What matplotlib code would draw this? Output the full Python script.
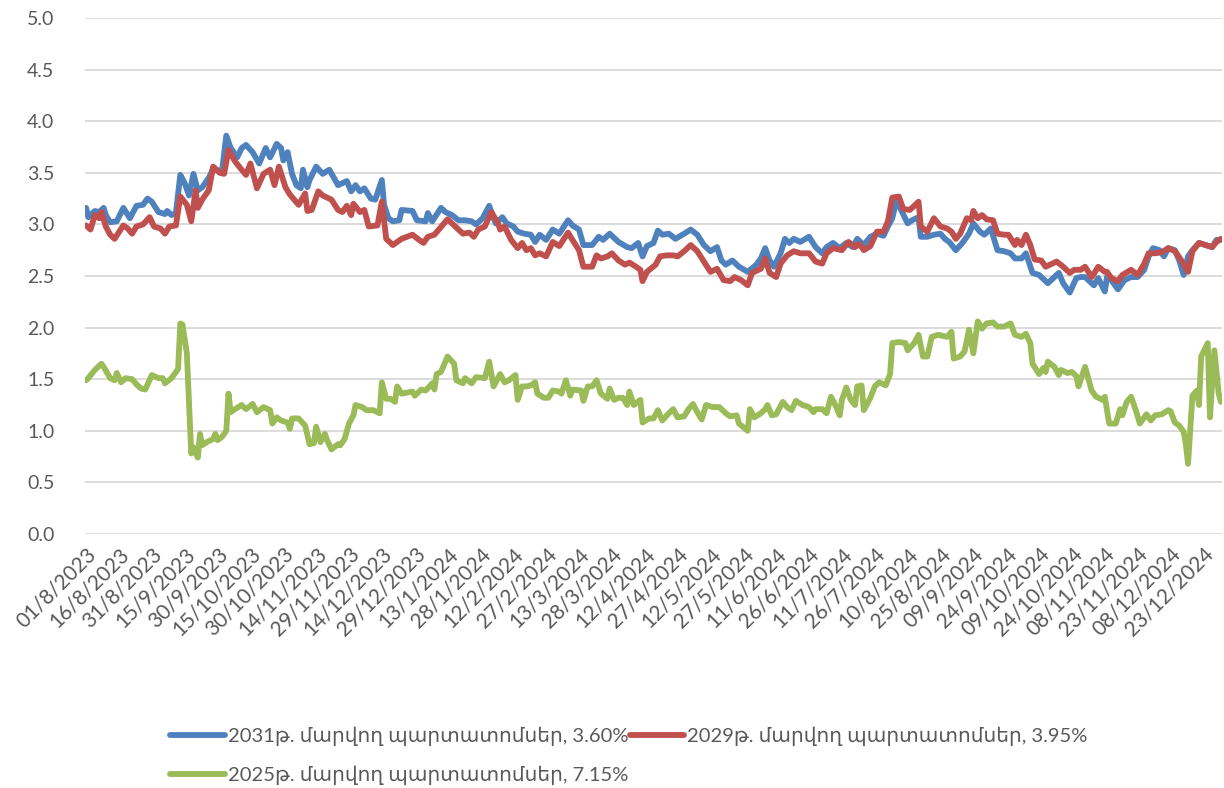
import matplotlib
matplotlib.use('Agg')
import matplotlib.pyplot as plt

plt.rcParams['font.family'] = ['Lato', 'DejaVu Sans']

# day offsets from 01/8/2023 and yields (%)
blue_day = [0, 1, 4, 6, 8, 9, 11, 14, 17, 20, 23, 26, 28, 30, 33, 36, 37, 39, 41, 43, 45, 47, 49, 51, 53, 56, 58, 62, 64, 66,
            69, 71, 73, 76, 79, 82, 84, 87, 89, 90, 92, 94, 96, 98, 99, 101, 102, 105, 108, 111, 115, 119, 121, 123, 125, 127,
            130, 132, 135, 136, 138, 140, 143, 144, 149, 151, 155, 156, 158, 162, 164, 167, 170, 173, 176, 178, 181, 184, 186,
            187, 190, 192, 195, 197, 200, 203, 205, 207, 210, 213, 216, 220, 222, 225, 227, 231, 234, 236, 239, 243, 247, 249,
            252, 254, 256, 259, 261, 263, 266, 269, 273, 276, 279, 282, 285, 288, 290, 292, 295, 298, 302, 306, 308, 310, 312,
            314, 317, 319, 321, 323, 326, 330, 333, 336, 338, 341, 344, 347, 350, 352, 355, 358, 361, 364, 366, 368, 370, 372,
            375, 377, 380, 381, 384, 387, 390, 392, 394, 397, 400, 403, 405, 408, 410, 413, 416, 419, 422, 424, 427, 429, 432,
            435, 439, 442, 444, 446, 449, 452, 454, 456, 460, 462, 465, 466, 468, 471, 474, 477, 480, 483, 485, 487, 490, 492,
            494, 497, 499, 501, 503, 505, 508, 511, 514, 516, 518]
blue_val = [3.16, 3.07, 3.13, 3.12, 3.16, 3.09, 3.02, 3.03, 3.16, 3.06, 3.18, 3.19, 3.25, 3.22, 3.12, 3.10, 3.13, 3.09, 3.11,
            3.48, 3.40, 3.28, 3.49, 3.33, 3.36, 3.45, 3.54, 3.51, 3.86, 3.74, 3.65, 3.74, 3.77, 3.70, 3.59, 3.74, 3.65, 3.78,
            3.74, 3.62, 3.70, 3.49, 3.38, 3.35, 3.53, 3.36, 3.43, 3.56, 3.49, 3.53, 3.38, 3.42, 3.32, 3.38, 3.32, 3.35, 3.25,
            3.24, 3.43, 3.19, 3.06, 3.03, 3.04, 3.14, 3.13, 3.04, 3.03, 3.11, 3.03, 3.16, 3.12, 3.09, 3.04, 3.04, 3.03, 3.00,
            3.06, 3.18, 3.06, 3.01, 3.07, 3.01, 2.98, 2.93, 2.91, 2.90, 2.83, 2.90, 2.85, 2.95, 2.91, 3.04, 2.99, 2.95, 2.80,
            2.80, 2.88, 2.85, 2.91, 2.83, 2.78, 2.77, 2.82, 2.69, 2.79, 2.82, 2.94, 2.90, 2.91, 2.86, 2.91, 2.95, 2.90, 2.80,
            2.74, 2.78, 2.65, 2.61, 2.65, 2.59, 2.54, 2.61, 2.67, 2.77, 2.65, 2.59, 2.72, 2.86, 2.82, 2.86, 2.83, 2.88, 2.78,
            2.72, 2.78, 2.82, 2.77, 2.82, 2.78, 2.86, 2.80, 2.88, 2.91, 2.89, 2.98, 3.06, 3.24, 3.14, 3.01, 3.04, 3.07, 2.88,
            2.88, 2.90, 2.91, 2.86, 2.83, 2.75, 2.82, 2.91, 3.01, 2.93, 2.90, 2.96, 2.75, 2.74, 2.72, 2.67, 2.67, 2.72, 2.53,
            2.51, 2.43, 2.49, 2.53, 2.43, 2.34, 2.48, 2.49, 2.49, 2.41, 2.48, 2.35, 2.49, 2.46, 2.37, 2.46, 2.49, 2.49, 2.56,
            2.69, 2.77, 2.75, 2.69, 2.77, 2.75, 2.65, 2.51, 2.69, 2.75, 2.82, 2.80, 2.78, 2.85, 2.85]

red_day = [0, 2, 4, 6, 7, 9, 11, 13, 17, 19, 21, 23, 26, 29, 31, 34, 36, 38, 41, 43, 46, 48, 50, 51, 53, 56, 58, 61, 63, 65,
           68, 71, 73, 75, 78, 81, 84, 86, 88, 91, 93, 97, 100, 101, 103, 106, 108, 112, 115, 117, 119, 121, 122, 125, 127,
           129, 133, 135, 137, 140, 144, 149, 152, 154, 156, 159, 161, 165, 168, 172, 175, 177, 179, 182, 185, 188, 189, 191,
           194, 197, 199, 201, 203, 205, 207, 210, 213, 216, 220, 222, 225, 227, 231, 233, 235, 238, 240, 243, 246, 248, 251,
           253, 254, 256, 260, 262, 265, 268, 270, 273, 276, 279, 282, 285, 288, 291, 294, 296, 299, 302, 304, 308, 310, 312,
           315, 317, 320, 323, 326, 330, 333, 336, 338, 341, 345, 348, 351, 353, 355, 358, 361, 364, 366, 368, 371, 373, 376,
           380, 381, 384, 387, 390, 393, 395, 397, 399, 402, 404, 405, 407, 409, 411, 414, 416, 419, 421, 424, 425, 427, 429,
           431, 433, 436, 438, 440, 443, 446, 449, 451, 454, 456, 459, 460, 462, 465, 466, 468, 471, 473, 477, 480, 483, 485,
           488, 491, 494, 497, 500, 503, 505, 508, 511, 514, 516, 518]
red_val = [2.99, 2.95, 3.09, 3.06, 3.12, 2.98, 2.90, 2.86, 2.99, 2.96, 2.91, 2.98, 3.00, 3.07, 2.98, 2.96, 2.91, 2.98, 2.99,
           3.27, 3.19, 3.03, 3.33, 3.16, 3.24, 3.33, 3.56, 3.50, 3.49, 3.72, 3.61, 3.53, 3.48, 3.59, 3.35, 3.49, 3.53, 3.38,
           3.56, 3.36, 3.29, 3.19, 3.30, 3.13, 3.14, 3.32, 3.28, 3.24, 3.14, 3.12, 3.18, 3.09, 3.20, 3.12, 3.14, 2.98, 2.99,
           3.22, 2.86, 2.80, 2.86, 2.90, 2.85, 2.82, 2.88, 2.90, 2.95, 3.05, 2.99, 2.91, 2.92, 2.88, 2.95, 2.98, 3.12, 3.01,
           2.95, 2.98, 2.85, 2.77, 2.82, 2.75, 2.77, 2.70, 2.72, 2.69, 2.83, 2.79, 2.92, 2.85, 2.75, 2.59, 2.59, 2.70, 2.67,
           2.69, 2.72, 2.65, 2.61, 2.63, 2.59, 2.56, 2.45, 2.54, 2.61, 2.69, 2.70, 2.70, 2.69, 2.74, 2.80, 2.74, 2.64, 2.54,
           2.57, 2.46, 2.45, 2.49, 2.46, 2.41, 2.53, 2.57, 2.67, 2.53, 2.49, 2.62, 2.70, 2.74, 2.72, 2.72, 2.64, 2.62, 2.72,
           2.77, 2.75, 2.83, 2.78, 2.81, 2.75, 2.79, 2.93, 2.93, 3.03, 3.26, 3.27, 3.15, 3.14, 3.22, 2.98, 2.93, 3.06, 2.98,
           2.96, 2.93, 2.86, 2.91, 3.06, 3.04, 3.13, 3.06, 3.09, 3.05, 3.04, 2.91, 2.90, 2.90, 2.80, 2.85, 2.80, 2.90, 2.80,
           2.66, 2.65, 2.59, 2.61, 2.64, 2.59, 2.53, 2.56, 2.56, 2.59, 2.49, 2.52, 2.59, 2.54, 2.54, 2.48, 2.45, 2.51, 2.56,
           2.51, 2.62, 2.72, 2.72, 2.73, 2.77, 2.74, 2.65, 2.54, 2.74, 2.82, 2.80, 2.78, 2.83, 2.86]

green_day = [0, 1, 4, 7, 8, 11, 13, 14, 16, 18, 21, 23, 25, 27, 30, 33, 35, 36, 39, 42, 43, 44, 46, 48, 49, 51, 52, 53, 55,
             58, 59, 60, 62, 64, 65, 66, 68, 71, 73, 76, 78, 81, 84, 85, 87, 89, 92, 93, 94, 97, 100, 102, 104, 105, 107,
             109, 110, 112, 115, 116, 118, 120, 122, 123, 126, 128, 131, 134, 135, 137, 139, 141, 142, 144, 149, 150, 153,
             155, 158, 159, 160, 162, 163, 165, 168, 169, 172, 173, 176, 178, 182, 184, 186, 189, 191, 193, 196, 197, 199,
             201, 203, 205, 206, 209, 211, 213, 216, 217, 219, 221, 222, 226, 227, 229, 231, 233, 235, 238, 239, 241, 243,
             245, 247, 248, 250, 253, 254, 257, 259, 261, 263, 266, 268, 270, 273, 275, 277, 279, 281, 283, 286, 289, 292,
             294, 297, 298, 302, 303, 305, 308, 310, 311, 313, 315, 318, 320, 322, 324, 327, 330, 332, 333, 336, 338, 340,
             342, 344, 345, 347, 349, 351, 352, 354, 355, 358, 360, 362, 365, 367, 368, 371, 374, 375, 378, 380, 382, 384,
             386, 389, 393, 395, 396, 399, 401, 403, 405, 407, 409, 411, 414, 416, 419, 422, 424, 427, 429, 431, 432, 435,
             437, 438, 439, 442, 444, 445, 448, 450, 452, 453, 456, 459, 461, 464, 465, 467, 470, 472, 473, 475, 477, 479,
             481, 484, 486, 488, 491, 494, 495, 497, 499, 501, 502, 503, 505, 507, 508, 509, 512, 513, 515, 517, 518]
green_val = [1.49, 1.51, 1.59, 1.65, 1.62, 1.51, 1.49, 1.56, 1.47, 1.51, 1.50, 1.45, 1.41, 1.40, 1.54, 1.51, 1.51, 1.46,
             1.51, 1.60, 2.04, 2.03, 1.75, 0.78, 0.84, 0.74, 0.97, 0.86, 0.89, 0.92, 0.97, 0.91, 0.94, 1.00, 1.36, 1.18,
             1.21, 1.25, 1.21, 1.26, 1.18, 1.23, 1.20, 1.07, 1.13, 1.10, 1.08, 1.02, 1.12, 1.12, 1.05, 0.87, 0.88, 1.04,
             0.89, 0.97, 0.91, 0.82, 0.87, 0.86, 0.92, 1.07, 1.15, 1.25, 1.23, 1.20, 1.20, 1.17, 1.47, 1.31, 1.31, 1.28,
             1.43, 1.36, 1.38, 1.34, 1.40, 1.39, 1.46, 1.40, 1.55, 1.57, 1.62, 1.72, 1.65, 1.49, 1.46, 1.51, 1.46, 1.52,
             1.51, 1.67, 1.43, 1.55, 1.47, 1.49, 1.54, 1.30, 1.43, 1.43, 1.44, 1.47, 1.36, 1.32, 1.32, 1.39, 1.38, 1.36,
             1.49, 1.34, 1.40, 1.39, 1.29, 1.43, 1.43, 1.49, 1.36, 1.31, 1.41, 1.30, 1.32, 1.32, 1.25, 1.38, 1.25, 1.30,
             1.08, 1.12, 1.12, 1.20, 1.10, 1.17, 1.21, 1.13, 1.14, 1.21, 1.26, 1.18, 1.11, 1.25, 1.23, 1.23, 1.17, 1.14,
             1.15, 1.07, 1.00, 1.21, 1.13, 1.17, 1.21, 1.25, 1.15, 1.16, 1.28, 1.23, 1.20, 1.29, 1.25, 1.23, 1.18, 1.21,
             1.21, 1.17, 1.33, 1.25, 1.15, 1.30, 1.42, 1.30, 1.25, 1.43, 1.44, 1.20, 1.32, 1.43, 1.47, 1.44, 1.55, 1.85,
             1.86, 1.85, 1.78, 1.85, 1.93, 1.72, 1.72, 1.91, 1.93, 1.91, 1.96, 1.70, 1.72, 1.77, 1.98, 1.75, 2.06, 1.99,
             2.04, 2.05, 2.01, 2.01, 2.04, 1.93, 1.91, 1.94, 1.85, 1.65, 1.55, 1.61, 1.57, 1.67, 1.62, 1.54, 1.59, 1.56,
             1.57, 1.53, 1.43, 1.62, 1.39, 1.33, 1.30, 1.33, 1.07, 1.07, 1.21, 1.15, 1.28, 1.33, 1.21, 1.07, 1.16, 1.10,
             1.15, 1.16, 1.20, 1.19, 1.08, 1.05, 0.99, 0.87, 0.68, 1.34, 1.39, 1.25, 1.72, 1.85, 1.13, 1.78, 1.36, 1.28]

tick_labels = ['01/8/2023', '16/8/2023', '31/8/2023', '15/9/2023', '30/9/2023', '15/10/2023', '30/10/2023',
               '14/11/2023', '29/11/2023', '14/12/2023', '29/12/2023', '13/1/2024', '28/1/2024', '12/2/2024',
               '27/2/2024', '13/3/2024', '28/3/2024', '12/4/2024', '27/4/2024', '12/5/2024', '27/5/2024',
               '11/6/2024', '26/6/2024', '11/7/2024', '26/7/2024', '10/8/2024', '25/8/2024', '09/9/2024',
               '24/9/2024', '09/10/2024', '24/10/2024', '08/11/2024', '23/11/2024', '08/12/2024', '23/12/2024']
tick_step = 15

names = ['2031թ. մարվող պարտատոմսեր, 3.60%',
         '2029թ. մարվող պարտատոմսեր, 3.95%',
         '2025թ. մարվող պարտատոմսեր, 7.15%']
colors = ['#4F81BD', '#C0504D', '#9BBB59']

fig = plt.figure(figsize=(12.24, 7.88), dpi=100)
ax = fig.add_axes([85 / 1224, 1 - 534 / 788, 1137 / 1224, 516 / 788])

lw = 4.2
lb, = ax.plot(blue_day, blue_val, color=colors[0], lw=lw, solid_joinstyle='round', solid_capstyle='round', label=names[0])
lr, = ax.plot(red_day, red_val, color=colors[1], lw=lw, solid_joinstyle='round', solid_capstyle='round', label=names[1])
lg, = ax.plot(green_day, green_val, color=colors[2], lw=lw, solid_joinstyle='round', solid_capstyle='round', label=names[2])

ax.set_ylim(0, 5)
ax.set_yticks([i * 0.5 for i in range(11)])
ax.set_yticklabels([f'{i * 0.5:.1f}' for i in range(11)])
ax.set_xlim(-0.5, 518.5)
ax.set_xticks([i * tick_step for i in range(len(tick_labels))])
ax.set_xticklabels(tick_labels, rotation=45, ha='right', va='top', rotation_mode='anchor')

ax.grid(axis='y', color='#D9D9D9', lw=1.3)
ax.set_axisbelow(True)
for s in ax.spines.values():
    s.set_visible(False)
ax.tick_params(axis='y', length=0, labelsize=14, colors='#595959', pad=22)
ax.tick_params(axis='x', length=0, labelsize=15, colors='#595959', pad=7)

fig.legend([lb, lg, lr], [names[0], names[2], names[1]], ncol=2, frameon=False,
           loc='lower left', bbox_to_anchor=(152 / 1224, -0.019), fontsize=14.5,
           handlelength=2.7, handletextpad=0.15, columnspacing=0.1, labelspacing=0.95,
           labelcolor='#595959')

fig.savefig('out.png', dpi=100)
